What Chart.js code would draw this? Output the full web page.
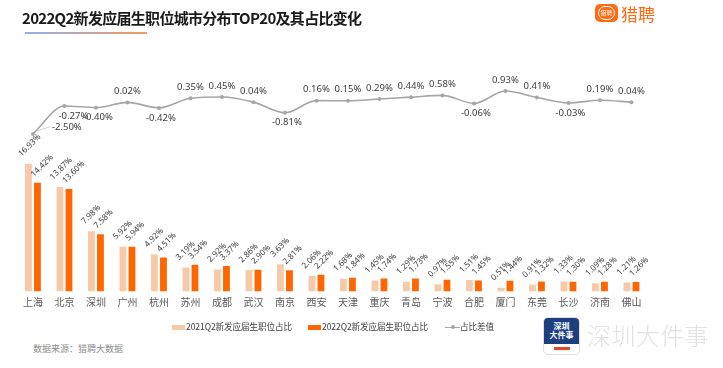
<!DOCTYPE html>
<html>
<head>
<meta charset="utf-8">
<script src="https://cdn.jsdelivr.net/npm/chart.js@4.4.0/dist/chart.umd.min.js"></script>
<style>
  body { margin: 0; background: #fff; font-family: "Noto Sans CJK SC", "Noto Sans", sans-serif; }
  #wrap { position: relative; width: 723px; height: 368px; overflow: hidden; }
  #c { position: absolute; left: 0; top: 0; }
  .title { position: absolute; left: 22px; top: 7px; font-size: 15px; font-weight: bold; color: #1a1a1a; letter-spacing: -0.7px; white-space: nowrap; }
  .uline { position: absolute; left: 25px; top: 32px; width: 122px; height: 2px; background: linear-gradient(90deg, #8fb0e8, #f39a62); }
  .logo { position: absolute; left: 595px; top: 4px; width: 23px; height: 18px; border-radius: 5px; background: #ff6a13; }
  .logo div { position: absolute; left: 3px; top: 2px; width: 15px; height: 12px; border: 1.5px solid #fff; border-radius: 7px; color: #fff; font-size: 6px; line-height: 12px; text-align: center; }
  .logotxt { position: absolute; left: 621px; top: 1px; font-size: 17px; color: #ff6a13; }
  .legend { position: absolute; top: 319px; font-size: 8.6px; line-height: 14px; color: #404040; white-space: nowrap; letter-spacing: -0.1px; }
  .legend span.box { display: inline-block; width: 13px; height: 5px; vertical-align: middle; margin-right: 1px; }
  .src { position: absolute; left: 33px; top: 342px; font-size: 9px; color: #8c8c8c; }
  .wm { position: absolute; left: 543px; top: 317px; width: 37px; height: 38px; border-radius: 5px; background: #fff; border: 1px solid #ddd; box-sizing: border-box; overflow: hidden; }
  .wm .top { height: 26px; background: #1d3f80; color: #fff; font-size: 8px; font-weight: bold; text-align: center; line-height: 9px; padding-top: 3px; box-sizing: border-box; }
  .wm .strip { margin: 3px auto 0; width: 16px; height: 3px; background: #e04a2a; }
  .wmtxt { position: absolute; left: 587px; top: 317px; font-size: 24px; color: #e3e3e3; letter-spacing: 0.4px; font-weight: 300; }
</style>
</head>
<body>
<div id="wrap">
  <canvas id="c" width="723" height="320"></canvas>
  <div class="title">2022Q2新发应届生职位城市分布TOP20及其占比变化</div>
  <div class="uline"></div>
  <div class="logo"><div>猎聘</div></div>
  <div class="logotxt">猎聘</div>
  <div class="legend" style="left:172px"><span class="box" style="background:#f8c9a8"></span>2021Q2新发应届生职位占比</div>
  <div class="legend" style="left:308px"><span class="box" style="background:#ff6600"></span>2022Q2新发应届生职位占比</div>
  <div class="legend" style="left:445px"><span style="display:inline-block;width:15px;height:1.5px;background:#a6a6a6;vertical-align:middle;position:relative"><span style="position:absolute;left:6px;top:-1.5px;width:4px;height:4px;border-radius:2px;background:#a6a6a6"></span></span>占比差值</div>
  <div class="src">数据来源：猎聘大数据</div>
  <div class="wm"><div class="top">深圳<br>大件事</div><div class="strip"></div></div>
  <div class="wmtxt">深圳大件事</div>
</div>
<script>
var cities = ["上海", "北京", "深圳", "广州", "杭州", "苏州", "成都", "武汉", "南京", "西安",
  "天津", "重庆", "青岛", "宁波", "合肥", "厦门", "东莞", "长沙", "济南", "佛山"];
var share2021 = [16.93, 13.87, 7.98, 5.92, 4.92, 3.19, 2.92, 2.86, 3.63, 2.06,
  1.68, 1.45, 1.29, 0.97, 1.51, 0.51, 0.91, 1.33, 1.09, 1.21];
var share2022 = [14.42, 13.60, 7.58, 5.94, 4.51, 3.54, 3.37, 2.90, 2.81, 2.22,
  1.84, 1.74, 1.73, 1.55, 1.45, 1.44, 1.32, 1.30, 1.28, 1.26];
var diff = [-2.50, -0.27, -0.40, 0.02, -0.42, 0.35, 0.45, 0.04, -0.81, 0.16,
  0.15, 0.29, 0.44, 0.58, -0.06, 0.93, 0.41, -0.03, 0.19, 0.04];

var labelPlugin = {
  id: "labels",
  afterDatasetsDraw: function (chart) {
    var ctx = chart.ctx;
    ctx.save();
    ctx.font = "8.2px 'Noto Sans', sans-serif";
    ctx.fillStyle = "#3c3c3c";
    // bar labels, rotated 45deg, starting near the bar's top-left
    var offs = [[-3.5, -7], [0, -5.5]];
    [0, 1].forEach(function (di) {
      var meta = chart.getDatasetMeta(di);
      var data = chart.data.datasets[di].data;
      meta.data.forEach(function (bar, i) {
        ctx.save();
        ctx.translate(bar.x - bar.width / 2 + offs[di][0], bar.y + offs[di][1]);
        ctx.rotate(-Math.PI / 4);
        ctx.textAlign = "left";
        ctx.textBaseline = "alphabetic";
        ctx.fillText(data[i].toFixed(2) + "%", 0, 0);
        ctx.restore();
      });
    });
    // line labels
    var lm = chart.getDatasetMeta(2);
    ctx.font = "9.5px 'Noto Sans', sans-serif";
    ctx.textAlign = "center";
    ctx.textBaseline = "middle";
    lm.data.forEach(function (pt, i) {
      var v = diff[i];
      var t = v.toFixed(2) + "%";
      if (i === 0) {
        ctx.strokeStyle = "#d0d0d0";
        ctx.lineWidth = 1;
        ctx.beginPath();
        ctx.moveTo(pt.x + 4, pt.y - 3);
        ctx.lineTo(pt.x + 17, pt.y - 7);
        ctx.stroke();
        ctx.textAlign = "left";
        ctx.fillText(t, pt.x + 19, pt.y - 7);
        ctx.textAlign = "center";
      } else if (v < 0) {
        ctx.fillText(t, pt.x + (i === 1 ? 9 : 2), pt.y + 10);
      } else {
        ctx.fillText(t, pt.x, pt.y - 11);
      }
    });
    ctx.restore();
  }
};

new Chart(document.getElementById("c").getContext("2d"), {
  type: "bar",
  data: {
    labels: cities,
    datasets: [
      {
        label: "2021Q2新发应届生职位占比",
        data: share2021,
        backgroundColor: "#f8c9a8",
        categoryPercentage: 0.573,
        barPercentage: 0.755,
        yAxisID: "y",
        order: 2
      },
      {
        label: "2022Q2新发应届生职位占比",
        data: share2022,
        backgroundColor: "#ff6600",
        categoryPercentage: 0.573,
        barPercentage: 0.755,
        yAxisID: "y",
        order: 2
      },
      {
        type: "line",
        label: "占比差值",
        data: diff,
        borderColor: "#a6a6a6",
        backgroundColor: "#a6a6a6",
        borderWidth: 1.6,
        pointRadius: 2,
        pointBorderWidth: 0,
        tension: 0.4,
        cubicInterpolationMode: "monotone",
        yAxisID: "y2",
        order: 1
      }
    ]
  },
  options: {
    responsive: false,
    animation: false,
    layout: { padding: { left: 17.2, right: 75.8, top: 70, bottom: 8.5 } },
    plugins: { legend: { display: false }, tooltip: { enabled: false } },
    scales: {
      x: {
        grid: { display: false, drawTicks: false },
        border: { display: false },
        ticks: { color: "#595959", padding: 5, font: { size: 10, family: "'Noto Sans CJK SC'" } },
        afterFit: function (s) { s.height = 20; }
      },
      y: { display: false, min: 0, max: 29.38 },
      y2: { display: false, min: -15.11, max: 2.61 }
    }
  },
  plugins: [labelPlugin]
});
</script>
</body>
</html>
